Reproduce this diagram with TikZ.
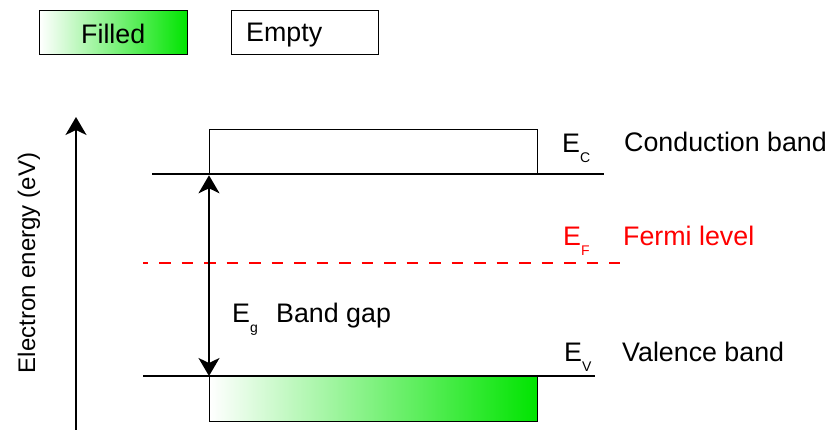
\documentclass[tikz,border=0pt]{standalone}
\usepackage{fontspec}
\setmainfont{Liberation Sans}
\usetikzlibrary{arrows.meta}
\definecolor{bandgreen}{RGB}{0,228,0}
\definecolor{fermired}{RGB}{255,0,0}
\newcommand{\sublbl}[1]{{\fontsize{14}{14}\selectfont\raisebox{-10pt}{#1}}}
\tikzset{
  lbl/.style={anchor=base west, inner sep=0pt, font=\fontsize{26.8}{28}\selectfont},
  axlbl/.style={inner sep=0pt, font=\fontsize{24}{26}\selectfont, rotate=90},
  bandline/.style={line width=1.3pt},
  filledbox/.style={draw=black, line width=1.3pt, left color=white, right color=bandgreen, shading angle=90},
  emptybox/.style={draw=black, line width=1.3pt, fill=white},
  bigtip/.style={-{Stealth[length=18pt,width=21pt,inset=5pt]}},
  fermi/.style={draw=fermired, line width=2pt, dash pattern=on 11.5pt off 11pt, dash phase=6.5pt}
}
\begin{document}
\begin{tikzpicture}[x=1pt,y=-1pt]
\useasboundingbox (0,0) rectangle (834,430);
% legend
\node[filledbox, minimum width=148pt, minimum height=44pt, anchor=north west, inner sep=0pt] (legF) at (39,10) {};
\node[emptybox, minimum width=147pt, minimum height=44pt, anchor=north west, inner sep=0pt] (legE) at (231,10) {};
\node[lbl] (legFt) at (81,44) {Filled};
\node[lbl] (legEt) at (246,42) {Empty};
% axis
\coordinate (axB) at (76,430);
\coordinate (axT) at (76,117);
\draw[line width=2pt, bigtip] (axB) -- (axT);
\node[axlbl] (axl) at (29,263) {Electron energy (eV)};
% bands
\node[emptybox, minimum width=328pt, minimum height=45pt, anchor=north west, inner sep=0pt] (cb) at (209,129) {};
\node[filledbox, minimum width=328pt, minimum height=45pt, anchor=north west, inner sep=0pt] (vb) at (209,376) {};
\coordinate (ecL) at (152,174);
\coordinate (ecR) at (604,174);
\coordinate (evL) at (143,376);
\coordinate (evR) at (595,376);
\coordinate (efL) at (143,263);
\coordinate (efR) at (620,263);
\draw[bandline] (ecL) -- (ecR);
\draw[bandline] (evL) -- (evR);
\draw[fermi] (efL) -- (efR);
% band gap arrow
\draw[line width=2pt, {Stealth[length=18pt,width=21pt,inset=5pt]}-{Stealth[length=18pt,width=21pt,inset=5pt]}] (cb.south west) -- (vb.north west);
% labels
\node[lbl] (ec) at (562,153) {E\sublbl{C}};
\node[lbl] (cbt) at (624,152) {Conduction band};
\node[lbl, text=fermired] (ef) at (563,245) {E\sublbl{F}};
\node[lbl, text=fermired] (eft) at (623,245) {Fermi level};
\node[lbl] (ev) at (564,361) {E\sublbl{V}};
\node[lbl] (evt) at (622,361) {Valence band};
\node[lbl] (eg) at (232,322) {E\sublbl{g}};
\node[lbl] (egt) at (276,322) {Band gap};
\end{tikzpicture}
\end{document}
